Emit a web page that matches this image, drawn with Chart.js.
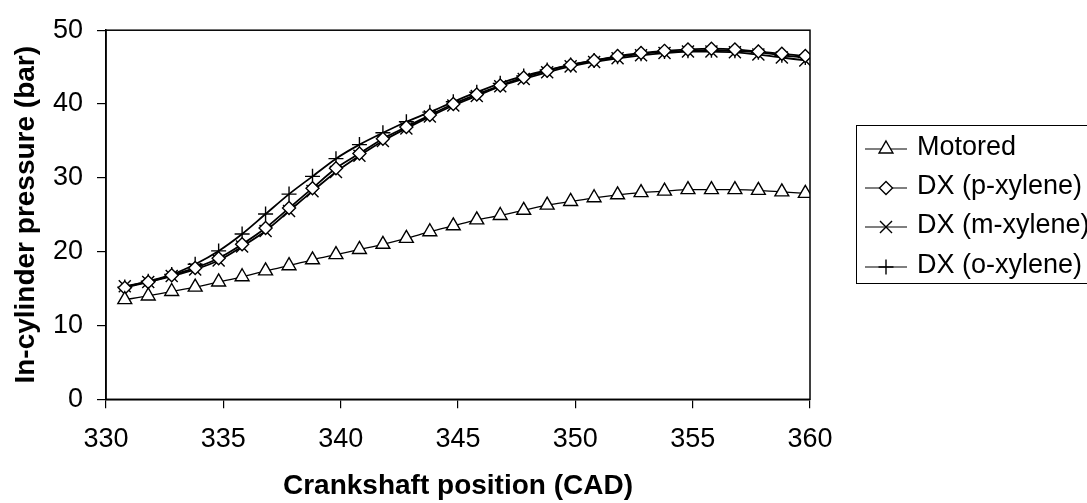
<!DOCTYPE html>
<html>
<head>
<meta charset="utf-8">
<script src="https://cdn.jsdelivr.net/npm/chart.js@4.4.1/dist/chart.umd.min.js"></script>
<style>
  html, body { margin: 0; padding: 0; background: #fff; }
  canvas { display: block; }
</style>
</head>
<body>
<canvas id="myChart" width="1087" height="503"></canvas>
<script>
// crank angle of each sample (CAD)
var cad = [330.8, 331.8, 332.8, 333.8, 334.8, 335.8, 336.8, 337.8, 338.8, 339.8,
           340.8, 341.8, 342.8, 343.8, 344.8, 345.8, 346.8, 347.8, 348.8, 349.8,
           350.8, 351.8, 352.8, 353.8, 354.8, 355.8, 356.8, 357.8, 358.8, 359.8];

var motored = [13.5, 14.0, 14.6, 15.2, 15.9, 16.6, 17.4, 18.1, 18.9, 19.6,
               20.3, 21.0, 21.8, 22.7, 23.5, 24.3, 24.9, 25.6, 26.3, 26.8,
               27.3, 27.7, 28.0, 28.2, 28.4, 28.4, 28.4, 28.3, 28.1, 27.9];

var pXylene = [15.1, 15.9, 16.8, 17.8, 19.1, 21.0, 23.2, 25.9, 28.6, 31.3,
               33.3, 35.3, 36.9, 38.5, 40.0, 41.3, 42.5, 43.6, 44.5, 45.3,
               45.9, 46.5, 46.9, 47.2, 47.4, 47.5, 47.4, 47.1, 46.8, 46.5];

var mXylene = [15.3, 15.9, 16.7, 17.6, 18.8, 20.7, 22.8, 25.5, 28.2, 30.8,
               33.0, 35.0, 36.7, 38.3, 39.8, 41.1, 42.4, 43.4, 44.3, 45.1,
               45.7, 46.2, 46.6, 46.9, 47.1, 47.1, 47.0, 46.7, 46.3, 45.9];

var oXylene = [15.2, 16.0, 16.9, 18.3, 20.1, 22.4, 25.1, 27.8, 30.2, 32.6,
               34.5, 36.1, 37.6, 38.9, 40.3, 41.6, 42.8, 43.8, 44.6, 45.3,
               45.9, 46.4, 46.8, 47.1, 47.2, 47.3, 47.2, 47.0, 46.6, 46.3];

var seriesNames = ["Motored", "DX (p-xylene)", "DX (m-xylene)", "DX (o-xylene)"];
var xTicks = [330, 335, 340, 345, 350, 355, 360];
var yTicks = [0, 10, 20, 30, 40, 50];

function pts(ys) {
    return cad.map(function (x, i) { return { x: x, y: ys[i] }; });
}

var FONT = "'Liberation Sans', Arial, sans-serif";

// box around the plot area
var frame = {
    id: "frame",
    afterDatasetsDraw: function (chart) {
        var a = chart.chartArea, ctx = chart.ctx;
        ctx.save();
        ctx.strokeStyle = "#000";
        ctx.lineWidth = 1.5;
        ctx.strokeRect(a.left, a.top, a.right - a.left, a.bottom - a.top);
        ctx.restore();
    }
};

// excel style legend: line through marker, boxed
var legendBox = {
    id: "legendBox",
    afterDraw: function (chart) {
        var ctx = chart.ctx;
        var rows = [149, 188, 227, 267];
        ctx.save();
        ctx.strokeStyle = "#000";
        ctx.lineWidth = 1;
        ctx.strokeRect(856.5, 125.5, 300, 158);
        chart.data.datasets.forEach(function (ds, i) {
            var y = rows[i];
            ctx.beginPath();
            ctx.lineWidth = 1.2;
            ctx.strokeStyle = "#000";
            ctx.moveTo(865, y);
            ctx.lineTo(907, y);
            ctx.stroke();
            ctx.fillStyle = "#fff";
            ctx.strokeStyle = "#000";
            ctx.lineWidth = 1.4;
            Chart.helpers.drawPoint(ctx, {
                pointStyle: ds.pointStyle,
                radius: ds.pointRadius,
                rotation: 0,
                borderWidth: 1.4
            }, 886, y);
            ctx.fillStyle = "#000";
            ctx.font = "27px " + FONT;
            ctx.textBaseline = "middle";
            ctx.textAlign = "left";
            ctx.fillText(ds.label, 917, y - 1);
        });
        ctx.restore();
    }
};

document.addEventListener("DOMContentLoaded", function () {
    var canvas = document.getElementById("myChart");
    var ctx = canvas.getContext("2d");

    var common = {
        borderColor: "#000",
        pointBorderColor: "#000",
        pointBackgroundColor: "#fff",
        pointBorderWidth: 1.4,
        fill: false,
        tension: 0.3
    };

    new Chart(ctx, {
        type: "line",
        data: {
            datasets: [
                Object.assign({}, common, { label: seriesNames[0], data: pts(motored), pointStyle: "triangle", pointRadius: 8, borderWidth: 1.3 }),
                Object.assign({}, common, { label: seriesNames[1], data: pts(pXylene), pointStyle: "rectRot", pointRadius: 6.5, borderWidth: 1.8 }),
                Object.assign({}, common, { label: seriesNames[2], data: pts(mXylene), pointStyle: "crossRot", pointRadius: 8.5, borderWidth: 1.8 }),
                Object.assign({}, common, { label: seriesNames[3], data: pts(oXylene), pointStyle: "cross", pointRadius: 7.5, borderWidth: 1.8 })
            ]
        },
        options: {
            responsive: false,
            animation: false,
            devicePixelRatio: 1,
            layout: { padding: { top: 22, right: 277, left: 0, bottom: 0 } },
            plugins: {
                legend: { display: false },
                tooltip: { enabled: false }
            },
            scales: {
                x: {
                    type: "linear",
                    position: "bottom",
                    min: 330,
                    max: 360,
                    afterBuildTicks: function (s) { s.ticks = xTicks.map(function (v) { return { value: v }; }); },
                    afterFit: function (s) { s.height = 103.7; },
                    grid: { drawOnChartArea: false, drawTicks: true, tickLength: 9, color: "#000", lineWidth: 1.2 },
                    border: { color: "#000", width: 1.5 },
                    ticks: { color: "#000", font: { family: FONT, size: 27 }, padding: 15, maxRotation: 0 },
                    title: { display: true, text: "Crankshaft position (CAD)", color: "#000", font: { family: FONT, size: 28, weight: "bold" }, padding: { top: 0, bottom: 0 } }
                },
                y: {
                    min: 0,
                    max: 50,
                    afterBuildTicks: function (s) { s.ticks = yTicks.map(function (v) { return { value: v }; }); },
                    afterFit: function (s) { s.width = 106; },
                    grid: { drawOnChartArea: false, drawTicks: true, tickLength: 9, color: "#000", lineWidth: 1.2 },
                    border: { color: "#000", width: 1.5 },
                    ticks: { color: "#000", font: { family: FONT, size: 27 }, padding: 14 },
                    title: { display: true, text: "In-cylinder pressure (bar)", color: "#000", font: { family: FONT, size: 28, weight: "bold" }, padding: { top: 9, bottom: 0 } }
                }
            }
        },
        plugins: [frame, legendBox]
    });
});
</script>
</body>
</html>
